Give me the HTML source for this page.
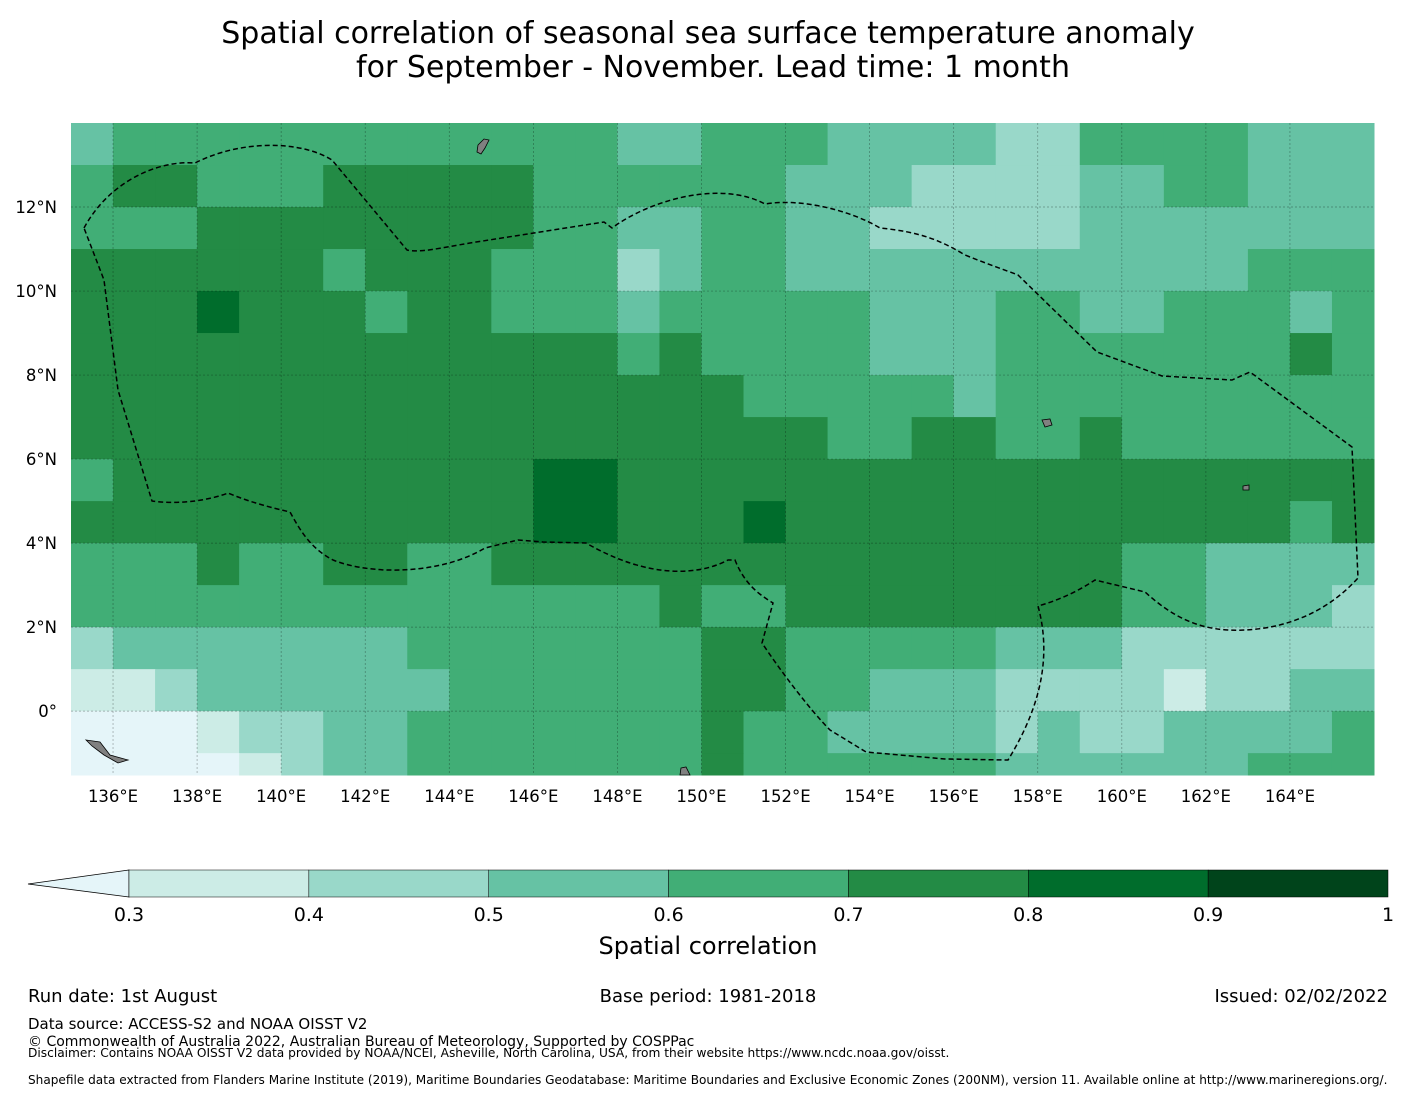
<!DOCTYPE html>
<html><head><meta charset="utf-8"><style>
body{margin:0;background:#fff;width:1416px;height:1095px;overflow:hidden;font-family:"DejaVu Sans","Liberation Sans",sans-serif;}
svg text{font-family:"DejaVu Sans","Liberation Sans",sans-serif;fill:#000}
</style></head><body>
<svg id="chart" width="1416" height="1095" viewBox="0 0 1416 1095" xmlns="http://www.w3.org/2000/svg">
<text x="708" y="43" font-size="30" text-anchor="middle">Spatial correlation of seasonal sea surface temperature anomaly</text>
<text x="713" y="77" font-size="30" text-anchor="middle">for September - November. Lead time: 1 month</text>
<g id="cells"></g>
<g id="grid"></g>
<path fill="none" stroke="#000" stroke-width="1.5" stroke-dasharray="5,3" d="M84,228 C110,180 160,160 195,163 C240,140 300,140 332,160 L407,250 C420,253 440,248 470,243 L604,222 L612,228 C650,200 720,180 765,204 C800,198 850,210 880,228 C920,232 940,240 965,255 C990,265 1005,270 1018,275 L1097,352 L1162,376 L1232,380 L1250,372 L1352,447 L1358,578 C1320,620 1270,632 1228,630 C1190,628 1165,610 1145,592 L1095,580 C1080,590 1060,600 1038,606 C1050,650 1045,700 1008,760 L945,759 L866,752 L830,730 C810,710 780,670 762,643 L773,603 C760,595 745,585 735,560 L728,560 C700,575 650,580 586,543 L543,542 L518,540 L485,548 C440,575 370,575 333,560 C310,548 300,530 290,512 C260,505 245,500 228,493 C210,500 180,505 152,501 L118,390 L104,280 Z"/>
<g fill="#808080" stroke="#000" stroke-width="0.8">
<path d="M478,145 L484,139 L489,140 L485,148 L481,154 L477,152 Z"/>
<path d="M86,740 L100,742 L110,755 L128,760 L118,763 L104,755 L92,746 Z"/>
<path d="M1042,420 L1050,419 L1052,425 L1045,427 Z"/>
<path d="M1243,486 L1249,485 L1249,490 L1243,490 Z"/>
<path d="M681,768 L686,767 L690,775 L680,775 Z"/>
</g>
<g id="axes"></g>
<g id="cbar"></g>
<text x="708" y="954" font-size="24" text-anchor="middle">Spatial correlation</text>
<text x="28" y="1002" font-size="18">Run date: 1st August</text>
<text x="708" y="1002" font-size="18" text-anchor="middle">Base period: 1981-2018</text>
<text x="1388" y="1002" font-size="18" text-anchor="end">Issued: 02/02/2022</text>
<text x="28" y="1029" font-size="15">Data source: ACCESS-S2 and NOAA OISST V2</text>
<text x="28" y="1046" font-size="14">© Commonwealth of Australia 2022, Australian Bureau of Meteorology, Supported by COSPPac</text>
<text x="28" y="1057" font-size="12.2">Disclaimer: Contains NOAA OISST V2 data provided by NOAA/NCEI, Asheville, North Carolina, USA, from their website https://www.ncdc.noaa.gov/oisst.</text>
<text x="28" y="1084" font-size="12.1">Shapefile data extracted from Flanders Marine Institute (2019), Maritime Boundaries Geodatabase: Maritime Boundaries and Exclusive Economic Zones (200NM), version 11. Available online at http://www.marineregions.org/.</text>
</svg>
<script>
const lonStart = 135;
const latTop = 14;
const latBottom = -1.52;
// level codes: 0 <0.3, 1 0.3-0.4, 2 0.4-0.5, 3 0.5-0.6, 4 0.6-0.7, 5 0.7-0.8, 6 0.8-0.9, 7 0.9-1
const rows = [
"3444444444444334443333224444333",
"4554445555544444433322223344333",
"4445555555544334433222223333333",
"5555554555444234433333333333444",
"5556555455444344444333443344434",
"5555555555555454444333444444454",
"5555555555555555444443444444444",
"5555555555555555554455445444444",
"4555555555566555555555555555555",
"5555555555566555655555555555545",
"4445445544555555555555555443333",
"4444444444444454455555555443332",
"2333333344444445544444333222222",
"1123333334444445544333222212233",
"0001223344444445443333232233334",
"0000123344444445444444333333444"
];
const levelColors = ["#e5f5f9","#ccece6","#99d8c9","#66c2a4","#41ae76","#238b45","#006d2c","#00441b"];
const cbarBounds = [0.3,0.4,0.5,0.6,0.7,0.8,0.9,1];
const cbarTicks = ["0.3","0.4","0.5","0.6","0.7","0.8","0.9","1"];
const lonTicks = [136,138,140,142,144,146,148,150,152,154,156,158,160,162,164];
const latTicks = [0,2,4,6,8,10,12];

const NS="http://www.w3.org/2000/svg";
const xOf = lon => 71 + (lon-135)*(1303/31);
const yOf = lat => 123 + (latTop-lat)*(652/(latTop-latBottom));
function mk(tag, attrs, parent){const e=document.createElementNS(NS,tag);for(const k in attrs)e.setAttribute(k,attrs[k]);parent.appendChild(e);return e;}

const cells=document.getElementById('cells');
rows.forEach((r,ri)=>{
  const la0=latTop-ri, la1=Math.max(latTop-ri-1,latBottom);
  for(let ci=0;ci<r.length;ci++){
    const lv=+r[ci];
    const x0=xOf(lonStart+ci), x1=xOf(lonStart+ci+1);
    const el=mk('rect',{x:x0,y:yOf(la0),width:x1-x0+0.5,height:yOf(la1)-yOf(la0)+0.5,fill:levelColors[lv]},cells);
    
    
  }
});
const grid=document.getElementById('grid'), axes=document.getElementById('axes');
lonTicks.forEach(l=>{
  const x=xOf(l);
  const ln=mk('line',{x1:x,x2:x,y1:123,y2:775,stroke:'#000','stroke-opacity':0.35,'stroke-width':0.7,'stroke-dasharray':'2,2'},grid);
  
  
  const t=mk('text',{x:x,y:802,'font-size':16.5,'text-anchor':'middle'},axes);
  t.textContent=l+'°E';
  
  
});
latTicks.forEach(l=>{
  const y=yOf(l);
  const ln=mk('line',{x1:71,x2:1374,y1:y,y2:y,stroke:'#000','stroke-opacity':0.35,'stroke-width':0.7,'stroke-dasharray':'2,2'},grid);
  
  
  const t=mk('text',{x:57,y:y+6,'font-size':16.5,'text-anchor':'end'},axes);
  t.textContent=l===0?'0°':l+'°N';
  
  
});
const cb=document.getElementById('cbar');
const cx=v=>129+(v-0.3)*(1259/0.7);
const tri=mk('polygon',{points:'28,884 129,870 129,897',fill:levelColors[0],stroke:'#000','stroke-width':0.8},cb);


for(let i=0;i<cbarBounds.length-1;i++){
  const r=mk('rect',{x:cx(cbarBounds[i]),y:870,width:cx(cbarBounds[i+1])-cx(cbarBounds[i]),height:27,fill:levelColors[i+1],stroke:'#000','stroke-width':0.5},cb);
  
  
}
cbarBounds.forEach((v,i)=>{
  const t=mk('text',{x:cx(v),y:921,'font-size':19,'text-anchor':'middle'},cb);
  t.textContent=cbarTicks[i];
  
  
});
</script>
</body></html>
